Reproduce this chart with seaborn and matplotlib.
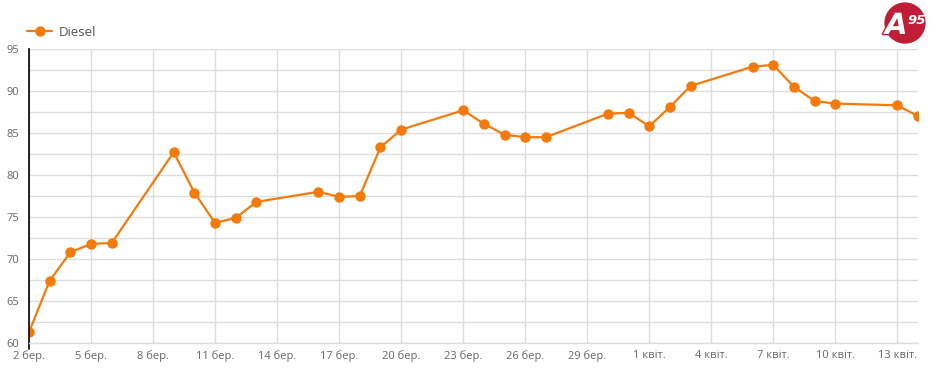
import matplotlib
matplotlib.use("Agg")
import matplotlib.pyplot as plt
import matplotlib.patheffects as pe
from matplotlib.patches import Circle
from matplotlib.ticker import MultipleLocator
import pandas as pd
import seaborn as sns

# ---- data ----
dates = ["2025-03-02", "2025-03-03", "2025-03-04", "2025-03-05", "2025-03-06",
         "2025-03-09", "2025-03-10", "2025-03-11", "2025-03-12", "2025-03-13",
         "2025-03-16", "2025-03-17", "2025-03-18", "2025-03-19", "2025-03-20",
         "2025-03-23", "2025-03-24", "2025-03-25", "2025-03-26", "2025-03-27",
         "2025-03-30", "2025-03-31", "2025-04-01", "2025-04-02", "2025-04-03",
         "2025-04-06", "2025-04-07", "2025-04-08", "2025-04-09", "2025-04-10",
         "2025-04-13", "2025-04-14"]
diesel = [61.3, 67.4, 70.8, 71.8, 71.9,
          82.7, 77.9, 74.3, 74.9, 76.8,
          78.0, 77.4, 77.5, 83.3, 85.4,
          87.7, 86.1, 84.8, 84.5, 84.5,
          87.3, 87.4, 85.8, 88.1, 90.6,
          92.9, 93.1, 90.5, 88.8, 88.5,
          88.3, 87.0]
series_name = "Diesel"
tick_dates = ["2025-03-02", "2025-03-05", "2025-03-08", "2025-03-11", "2025-03-14",
              "2025-03-17", "2025-03-20", "2025-03-23", "2025-03-26", "2025-03-29",
              "2025-04-01", "2025-04-04", "2025-04-07", "2025-04-10", "2025-04-13"]
tick_labels = ["2 бер.", "5 бер.", "8 бер.", "11 бер.", "14 бер.", "17 бер.",
               "20 бер.", "23 бер.", "26 бер.", "29 бер.", "1 квіт.", "4 квіт.",
               "7 квіт.", "10 квіт.", "13 квіт."]

df = pd.DataFrame({"date": pd.to_datetime(dates), "price": diesel,
                   "series": series_name})

# ---- style ----
sns.set_theme(style="white")
plt.rcParams["font.family"] = ["Open Sans", "DejaVu Sans"]

ORANGE = "#f57a0c"
GRID = "#dedede"
TXT = "#666666"
LOGO_RED = "#c11d36"

fig = plt.figure(figsize=(9.36, 3.72), dpi=100)
ax = fig.add_axes([29 / 936, 1 - 343 / 372, (918 - 29) / 936, (343 - 49) / 372])

sns.lineplot(data=df, x="date", y="price", hue="series", palette=[ORANGE],
             marker="o", markersize=7.5, markeredgewidth=0, linewidth=1.6,
             ax=ax, legend=True)

ax.set_xlim(pd.Timestamp(dates[0]), pd.Timestamp(dates[-1]))
ax.set_ylim(60, 95)
ax.yaxis.set_major_locator(MultipleLocator(5))
ax.yaxis.set_minor_locator(MultipleLocator(2.5))
ax.set_xticks(pd.to_datetime(tick_dates))
ax.set_xticklabels(tick_labels)

ax.grid(True, which="both", axis="y", color=GRID, linewidth=1.0)
ax.grid(True, which="major", axis="x", color=GRID, linewidth=1.0)
ax.set_axisbelow(True)

for s in ["top", "right"]:
    ax.spines[s].set_visible(False)
ax.spines["bottom"].set_color(GRID)
ax.spines["bottom"].set_linewidth(1.0)
ax.spines["left"].set_color("black")
ax.spines["left"].set_linewidth(1.2)

ax.tick_params(axis="y", which="both", length=0, pad=7, labelsize=8, labelcolor=TXT)
ax.tick_params(axis="x", which="both", length=0, pad=5, labelsize=8, labelcolor=TXT)
ax.set_xlabel("")
ax.set_ylabel("")

# small black extension of the left axis below the plot
ax.plot([0, 0], [0, -0.02], transform=ax.transAxes, color="black",
        linewidth=1.2, clip_on=False)

# legend
leg = ax.legend(loc="center left", bbox_to_anchor=(27 / 936, 1 - 32 / 372),
                bbox_transform=fig.transFigure, frameon=False, fontsize=9.5,
                handlelength=1.9, handletextpad=0.5, borderpad=0, borderaxespad=0)
for t in leg.get_texts():
    t.set_color("#555555")

# logo
lax = fig.add_axes([884 / 936, 1 - 44 / 372, 42 / 936, 42 / 372])
lax.set_xlim(0, 1)
lax.set_ylim(0, 1)
lax.set_aspect("equal")
lax.axis("off")
lax.add_patch(Circle((0.5, 0.5), 0.475, color=LOGO_RED))
lax.text(0.29, 0.43, "A", ha="center", va="center", fontsize=21,
         fontweight="bold", fontstyle="italic", color="white",
         family=["DejaVu Sans"], clip_on=False,
         path_effects=[pe.withStroke(linewidth=2, foreground=LOGO_RED)])
lax.text(0.77, 0.55, "95", ha="center", va="center", fontsize=9.5,
         fontweight="bold", fontstyle="italic", color="white",
         family=["DejaVu Sans"], clip_on=False)

fig.savefig("out.png", dpi=100, facecolor="white")
